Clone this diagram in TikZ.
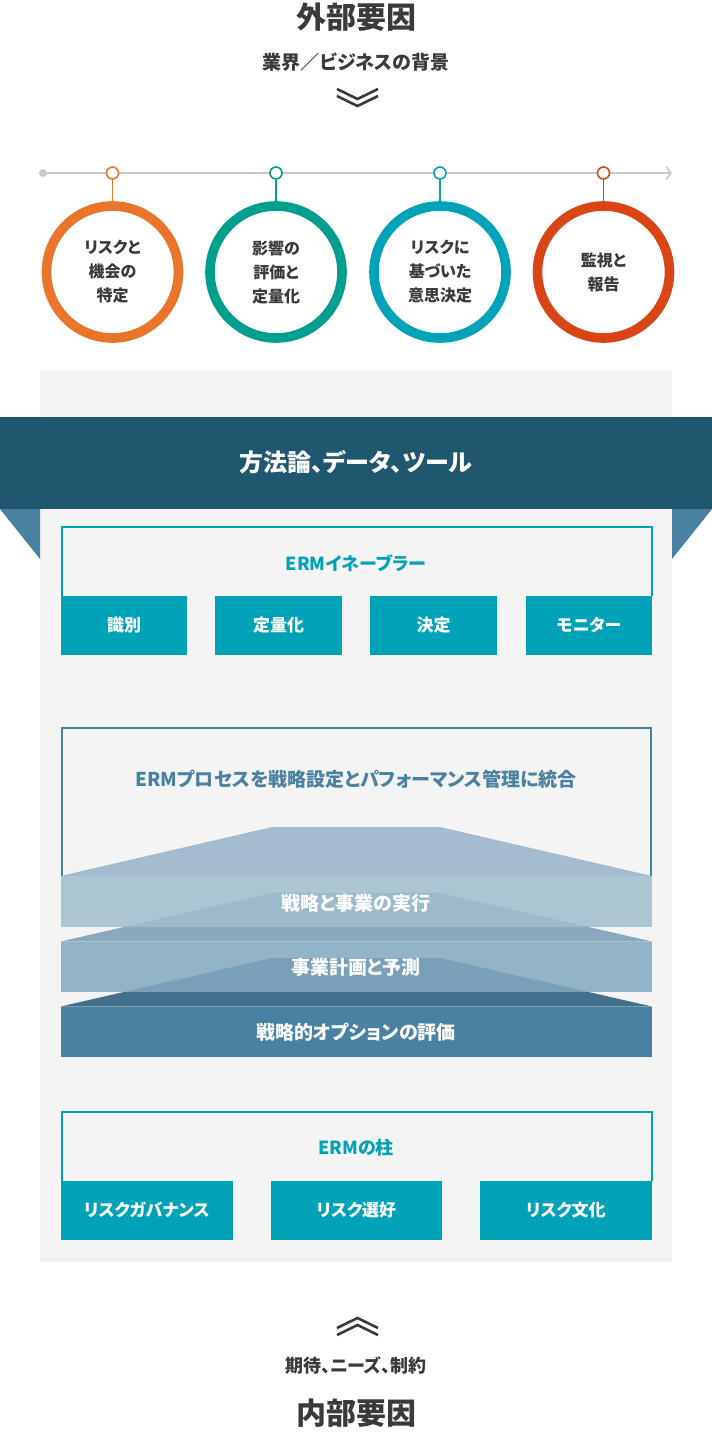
\documentclass[tikz,border=0pt]{standalone}
\usepackage{fontspec}
\setmainfont[RawFeature={+palt}]{Noto Sans CJK JP}
\usepackage{xcolor}
\usetikzlibrary{
    arrows.meta,
    shadows,
    positioning
}

\definecolor{darktext}{HTML}{3A3A3A}
\definecolor{lineg}{HTML}{C8C8C8}
\definecolor{idorange}{HTML}{E8752A}
\definecolor{evgreen}{HTML}{009E8C}
\definecolor{decteal}{HTML}{00A3B8}
\definecolor{monred}{HTML}{DA4516}
\definecolor{ermcyan}{HTML}{00A2B7}
\definecolor{bannerblue}{HTML}{21566F}
\definecolor{steel}{HTML}{4A81A0}
\definecolor{paneltint}{HTML}{F4F4F4}
\definecolor{trapa}{HTML}{A5BBCF}
\definecolor{trapb}{HTML}{8AA9BF}
\definecolor{trapc}{HTML}{426F8C}
\definecolor{banda}{HTML}{A0BDCD}
\definecolor{bandb}{HTML}{83A9C0}

\begin{document}
\begin{tikzpicture}[x=1pt, y=-1pt,
    every node/.style={inner sep=0pt},
    ring/.style={circle, line width=9.6pt, minimum size=132pt, fill=white, align=center,
        text=darktext, font=\fontsize{16}{24}\selectfont\bfseries},
    pin/.style={circle, line width=1.6pt, minimum size=12pt, fill=white},
    frameline/.style={draw=ermcyan, line width=2pt},
    tile/.style={fill=ermcyan, text=white, minimum height=59pt, font=\fontsize{17}{20}\selectfont\bfseries},
    band/.style={text=white, font=\fontsize{19}{22}\selectfont\bfseries},
    chev/.style={darktext, line width=2.6pt}
]
    \useasboundingbox (0,0) rectangle (712,1436);

    % external factors
    \node[text=darktext, font=\fontsize{30}{32}\selectfont\bfseries] (ext) at (356,17) {外部要因};
    \node[text=darktext, font=\fontsize{19}{22}\selectfont\bfseries] (extsub) at (356,62) {業界／ビジネスの背景};
    \draw[chev] (337,89) -- (357.5,99) -- (378,89);
    \draw[chev] (337,96) -- (357.5,106) -- (378,96);

    % timeline
    \coordinate (tl0) at (43,173);
    \coordinate (tl1) at (672,173);
    \draw[lineg, line width=2pt, -{Straight Barb[length=5pt, width=13pt, line width=1.6pt]}] (tl0) -- (tl1);
    \fill[lineg] (tl0) circle (4);

    \node[pin, draw=idorange] (t1) at (112.5,173) {};
    \node[pin, draw=evgreen] (t2) at (276,173) {};
    \node[pin, draw=decteal] (t3) at (440,173) {};
    \node[pin, draw=monred] (t4) at (603.5,173) {};

    \node[ring, draw=idorange] (c1) at (112.5,272) {リスクと\\機会の\\特定};
    \node[ring, draw=evgreen] (c2) at (276,272) {影響の\\評価と\\定量化};
    \node[ring, draw=decteal] (c3) at (440,272) {リスクに\\基づいた\\意思決定};
    \node[ring, draw=monred] (c4) at (603.5,272) {監視と\\報告};

    \draw[line width=1.6pt]
    (t1) edge[idorange] (c1)
    (t2) edge[evgreen] (c2)
    (t3) edge[decteal] (c3)
    (t4) edge[monred] (c4);

    % panel and banner
    \fill[paneltint, drop shadow={opacity=0.12, shadow xshift=0pt, shadow yshift=-4pt}] (40,370) rectangle (672,1258);
    \fill[steel] (0,509) -- (40,509) -- (40,559) -- cycle;
    \fill[steel] (712,509) -- (672,509) -- (672,559) -- cycle;
    \fill[bannerblue] (0,417) rectangle (712,509);
    \node[text=white, font=\fontsize{24}{26}\selectfont\bfseries] (banner) at (356,462) {方法論、データ、ツール};

    % ERM enablers
    \draw[frameline] (61.5,596) -- (61.5,526.5) -- (651.5,526.5) -- (651.5,596);
    \node[text=ermcyan, font=\fontsize{18}{22}\selectfont\bfseries] (entitle) at (356,563) {ERMイネーブラー};
    \node[tile, minimum width=126.5pt] (en1) at (124,625) {識別};
    \node[tile, minimum width=126.5pt] (en2) at (278.7,625) {定量化};
    \node[tile, minimum width=126.5pt] (en3) at (433.6,625) {決定};
    \node[tile, minimum width=126.5pt] (en4) at (589,625) {モニター};

    % ERM process
    \draw[steel, line width=2pt] (61.5,876) -- (61.5,727.5) -- (651,727.5) -- (651,876);
    \node[text=steel, font=\fontsize{19}{22}\selectfont\bfseries] (proc) at (356,779) {ERMプロセスを戦略設定とパフォーマンス管理に統合};
    \fill[trapa] (60.5,876) -- (272,827) -- (440,827) -- (652,876) -- cycle;
    \fill[trapb] (60.5,941.5) -- (272,893) -- (440,893) -- (652,941.5) -- cycle;
    \fill[trapc] (60.5,1006.5) -- (272,958) -- (440,958) -- (652,1006.5) -- cycle;
    \fill[banda, fill opacity=0.85] (60.5,876) rectangle (652,927);
    \fill[bandb, fill opacity=0.85] (60.5,941.5) rectangle (652,992);
    \fill[steel] (60.5,1006.5) rectangle (652,1057);
    \node[band] (lay1) at (356,903) {戦略と事業の実行};
    \node[band] (lay2) at (356,967) {事業計画と予測};
    \node[band] (lay3) at (356,1032) {戦略的オプションの評価};

    % ERM pillars
    \draw[frameline] (61.5,1181) -- (61.5,1111.5) -- (651.5,1111.5) -- (651.5,1181);
    \node[text=ermcyan, font=\fontsize{18}{22}\selectfont\bfseries] (pltitle) at (356,1148) {ERMの柱};
    \node[tile, minimum width=172.5pt] (pl1) at (146.8,1210) {リスクガバナンス};
    \node[tile, minimum width=171.5pt] (pl2) at (356.3,1210) {リスク選好};
    \node[tile, minimum width=172.5pt] (pl3) at (565.8,1210) {リスク文化};

    % internal factors
    \draw[chev] (337,1328) -- (357.5,1318) -- (378,1328);
    \draw[chev] (337,1335) -- (357.5,1325) -- (378,1335);
    \node[text=darktext, font=\fontsize{18}{22}\selectfont\bfseries] (intsub) at (356,1365) {期待、ニーズ、制約};
    \node[text=darktext, font=\fontsize{30}{32}\selectfont\bfseries] (int) at (356,1413) {内部要因};
\end{tikzpicture}
\end{document}
